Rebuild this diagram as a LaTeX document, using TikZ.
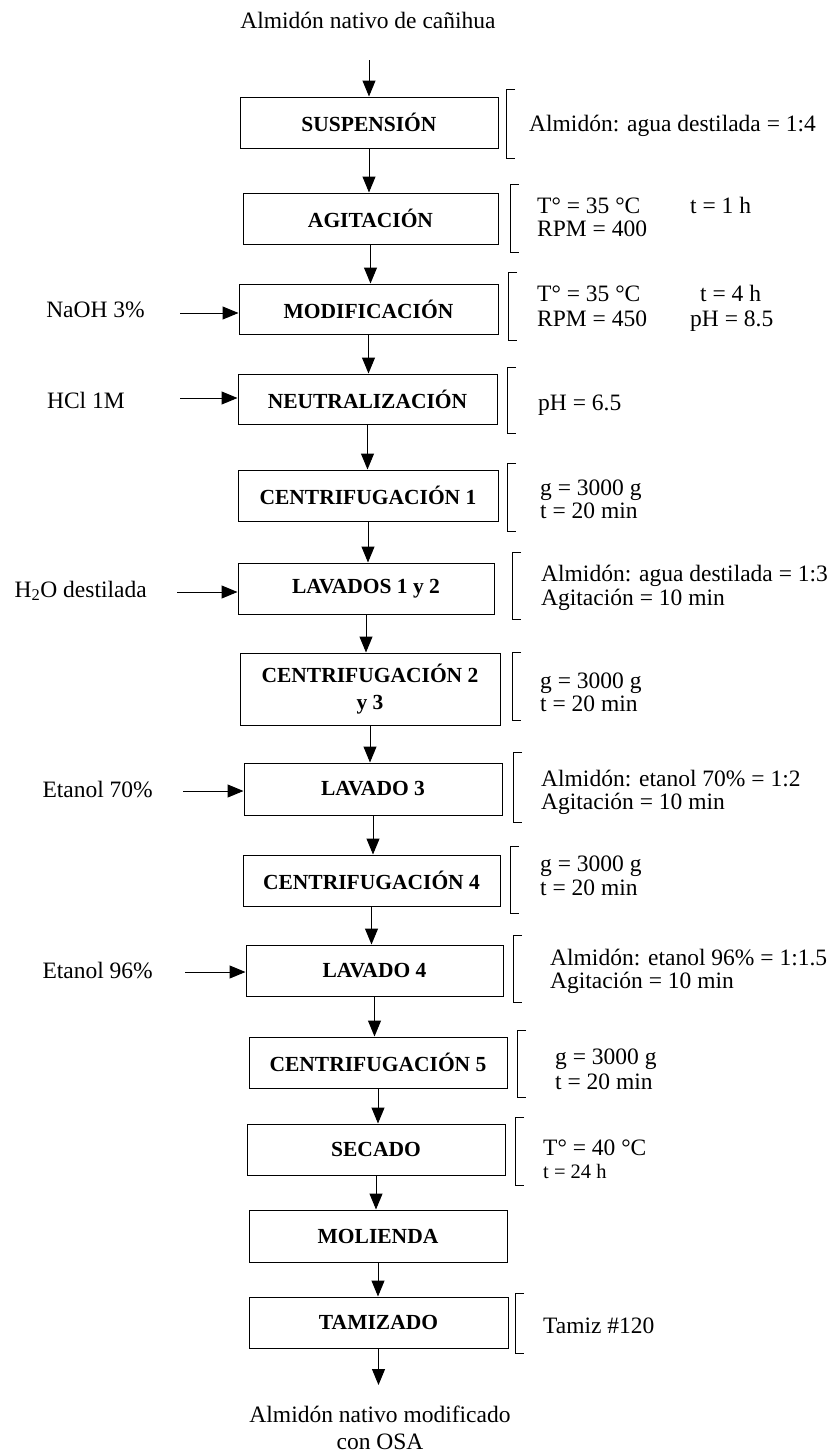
\documentclass[tikz,border=0pt]{standalone}
\usepackage{fontspec}
\setmainfont{Liberation Serif}
\usetikzlibrary{arrows.meta}
\begin{document}
\begin{tikzpicture}[x=1pt,y=-1pt,
  box/.style={draw, line width=1pt, inner sep=0pt, align=center, font=\fontsize{21.5}{27}\selectfont\bfseries},
  txt/.style={inner sep=0pt, anchor=base west, font=\fontsize{23.5}{27}\selectfont},
  smalltxt/.style={inner sep=0pt, anchor=base west, font=\fontsize{20.5}{24}\selectfont},
  lbl/.style={inner sep=0pt, anchor=base east, font=\fontsize{23.5}{27}\selectfont},
  ttl/.style={inner sep=0pt, anchor=base, align=center, font=\fontsize{23.5}{27}\selectfont},
  flow/.style={line width=1pt, -{Triangle[width=13pt,length=16pt]}},
  brk/.style={line width=1pt}
]
\useasboundingbox (0,0) rectangle (835,1454);

% title
\node[ttl] (top) at (368,28) {Almidón nativo de cañihua};
\coordinate (s0) at (369,60);

% boxes
\node[box, minimum width=258, minimum height=51] (b1) at (369,122.5) {SUSPENSIÓN};
\node[box, minimum width=255, minimum height=51] (b2) at (370.5,218.5) {AGITACIÓN};
\node[box, minimum width=259, minimum height=50] (b3) at (368.5,309) {MODIFICACIÓN};
\node[box, minimum width=259, minimum height=50] (b4) at (367.5,399) {NEUTRALIZACIÓN};
\node[box, minimum width=260, minimum height=51] (b5) at (368,495.5) {CENTRIFUGACIÓN 1};
\node[box, minimum width=256, minimum height=51] (b6) at (366,588.5) {LAVADOS 1 y 2};
\node[box, minimum width=260, minimum height=72] (b7) at (370,689) {CENTRIFUGACIÓN 2\\y 3};
\node[box, minimum width=258, minimum height=52] (b8) at (373,789) {LAVADO 3};
\node[box, minimum width=257, minimum height=51] (b9) at (371.5,880.5) {CENTRIFUGACIÓN 4};
\node[box, minimum width=257, minimum height=51] (b10) at (374.5,970.5) {LAVADO 4};
\node[box, minimum width=258, minimum height=51] (b11) at (378,1062.5) {CENTRIFUGACIÓN 5};
\node[box, minimum width=258, minimum height=51] (b12) at (376,1149.5) {SECADO};
\node[box, minimum width=258, minimum height=52] (b13) at (378,1236) {MOLIENDA};
\node[box, minimum width=259, minimum height=51] (b14) at (378.5,1322.5) {TAMIZADO};

% output
\node[ttl] (out) at (380,1449) {Almidón nativo modificado\\con OSA};
\coordinate (e0) at (378.5,1385);

% main flow
\draw[flow] (s0) -- (s0 |- b1.north);
\draw[flow] (b1.south) -- (b1.south |- b2.north);
\draw[flow] (b2.south) -- (b2.south |- b3.north);
\draw[flow] (b3.south) -- (b3.south |- b4.north);
\draw[flow] (b4.south) -- (b4.south |- b5.north);
\draw[flow] (b5.south) -- (b5.south |- b6.north);
\draw[flow] (b6.south) -- (b6.south |- b7.north);
\draw[flow] (b7.south) -- (b7.south |- b8.north);
\draw[flow] (b8.south) -- (b8.south |- b9.north);
\draw[flow] (b9.south) -- (b9.south |- b10.north);
\draw[flow] (b10.south) -- (b10.south |- b11.north);
\draw[flow] (b11.south) -- (b11.south |- b12.north);
\draw[flow] (b12.south) -- (b12.south |- b13.north);
\draw[flow] (b13.south) -- (b13.south |- b14.north);
\draw[flow] (b14.south) -- (e0);

% inputs on the left
\node[lbl] (in3) at (145,317) {NaOH 3\%};
\coordinate (a3) at (180,313);
\draw[flow] (a3) -- (a3 -| b3.west);
\node[lbl] (in4) at (125,408) {HCl 1M};
\coordinate (a4) at (180,398);
\draw[flow] (a4) -- (a4 -| b4.west);
\node[lbl] (in6) at (147,597) {H\textsubscript{2}O destilada};
\coordinate (a6) at (177,592);
\draw[flow] (a6) -- (a6 -| b6.west);
\node[lbl] (in8) at (153,797) {Etanol 70\%};
\coordinate (a8) at (183,791);
\draw[flow] (a8) -- (a8 -| b8.west);
\node[lbl] (in10) at (153,978) {Etanol 96\%};
\coordinate (a10) at (185,972);
\draw[flow] (a10) -- (a10 -| b10.west);

% brackets
\draw[brk] (515,89) -| (506,158) -- (515,158);
\draw[brk] (519,184) -| (510,252) -- (519,252);
\draw[brk] (517,272) -| (508,340) -- (517,340);
\draw[brk] (516,367) -| (507,433) -- (516,433);
\draw[brk] (516,463) -| (507,531) -- (516,531);
\draw[brk] (521,552) -| (512,619) -- (521,619);
\draw[brk] (521,652) -| (512,720) -- (521,720);
\draw[brk] (522,752) -| (513,822) -- (522,822);
\draw[brk] (519,846) -| (510,913) -- (519,913);
\draw[brk] (522,935) -| (513,1002) -- (522,1002);
\draw[brk] (526,1030) -| (517,1097) -- (526,1097);
\draw[brk] (524,1117) -| (515,1185) -- (524,1185);
\draw[brk] (524,1293) -| (515,1353) -- (524,1353);

% conditions
\node[txt] (c1) at (529,131) {Almidón: agua destilada = 1:4};
\node[txt] (c2a) at (537,213) {T° = 35 °C};
\node[txt] (c2b) at (690,213) {t = 1 h};
\node[txt] (c2c) at (537,236) {RPM = 400};
\node[txt] (c3a) at (537,301) {T° = 35 °C};
\node[txt] (c3b) at (700,301) {t = 4 h};
\node[txt] (c3c) at (537,326) {RPM = 450};
\node[txt] (c3d) at (690,326) {pH = 8.5};
\node[txt] (c4) at (538,410) {pH = 6.5};
\node[txt] (c5a) at (540,495) {g = 3000 g};
\node[txt] (c5b) at (540,518) {t = 20 min};
\node[txt] (c6a) at (541,581) {Almidón: agua destilada = 1:3};
\node[txt] (c6b) at (541,605) {Agitación = 10 min};
\node[txt] (c7a) at (540,688) {g = 3000 g};
\node[txt] (c7b) at (540,711) {t = 20 min};
\node[txt] (c8a) at (541,786) {Almidón: etanol 70\% = 1:2};
\node[txt] (c8b) at (541,809) {Agitación = 10 min};
\node[txt] (c9a) at (540,871) {g = 3000 g};
\node[txt] (c9b) at (540,895) {t = 20 min};
\node[txt] (c10a) at (550,965) {Almidón: etanol 96\% = 1:1.5};
\node[txt] (c10b) at (550,988) {Agitación = 10 min};
\node[txt] (c11a) at (555,1064) {g = 3000 g};
\node[txt] (c11b) at (555,1089) {t = 20 min};
\node[txt] (c12a) at (543,1155) {T° = 40 °C};
\node[smalltxt] (c12b) at (543,1178) {t = 24 h};
\node[txt] (c14) at (543,1333) {Tamiz \#120};
\end{tikzpicture}
\end{document}
